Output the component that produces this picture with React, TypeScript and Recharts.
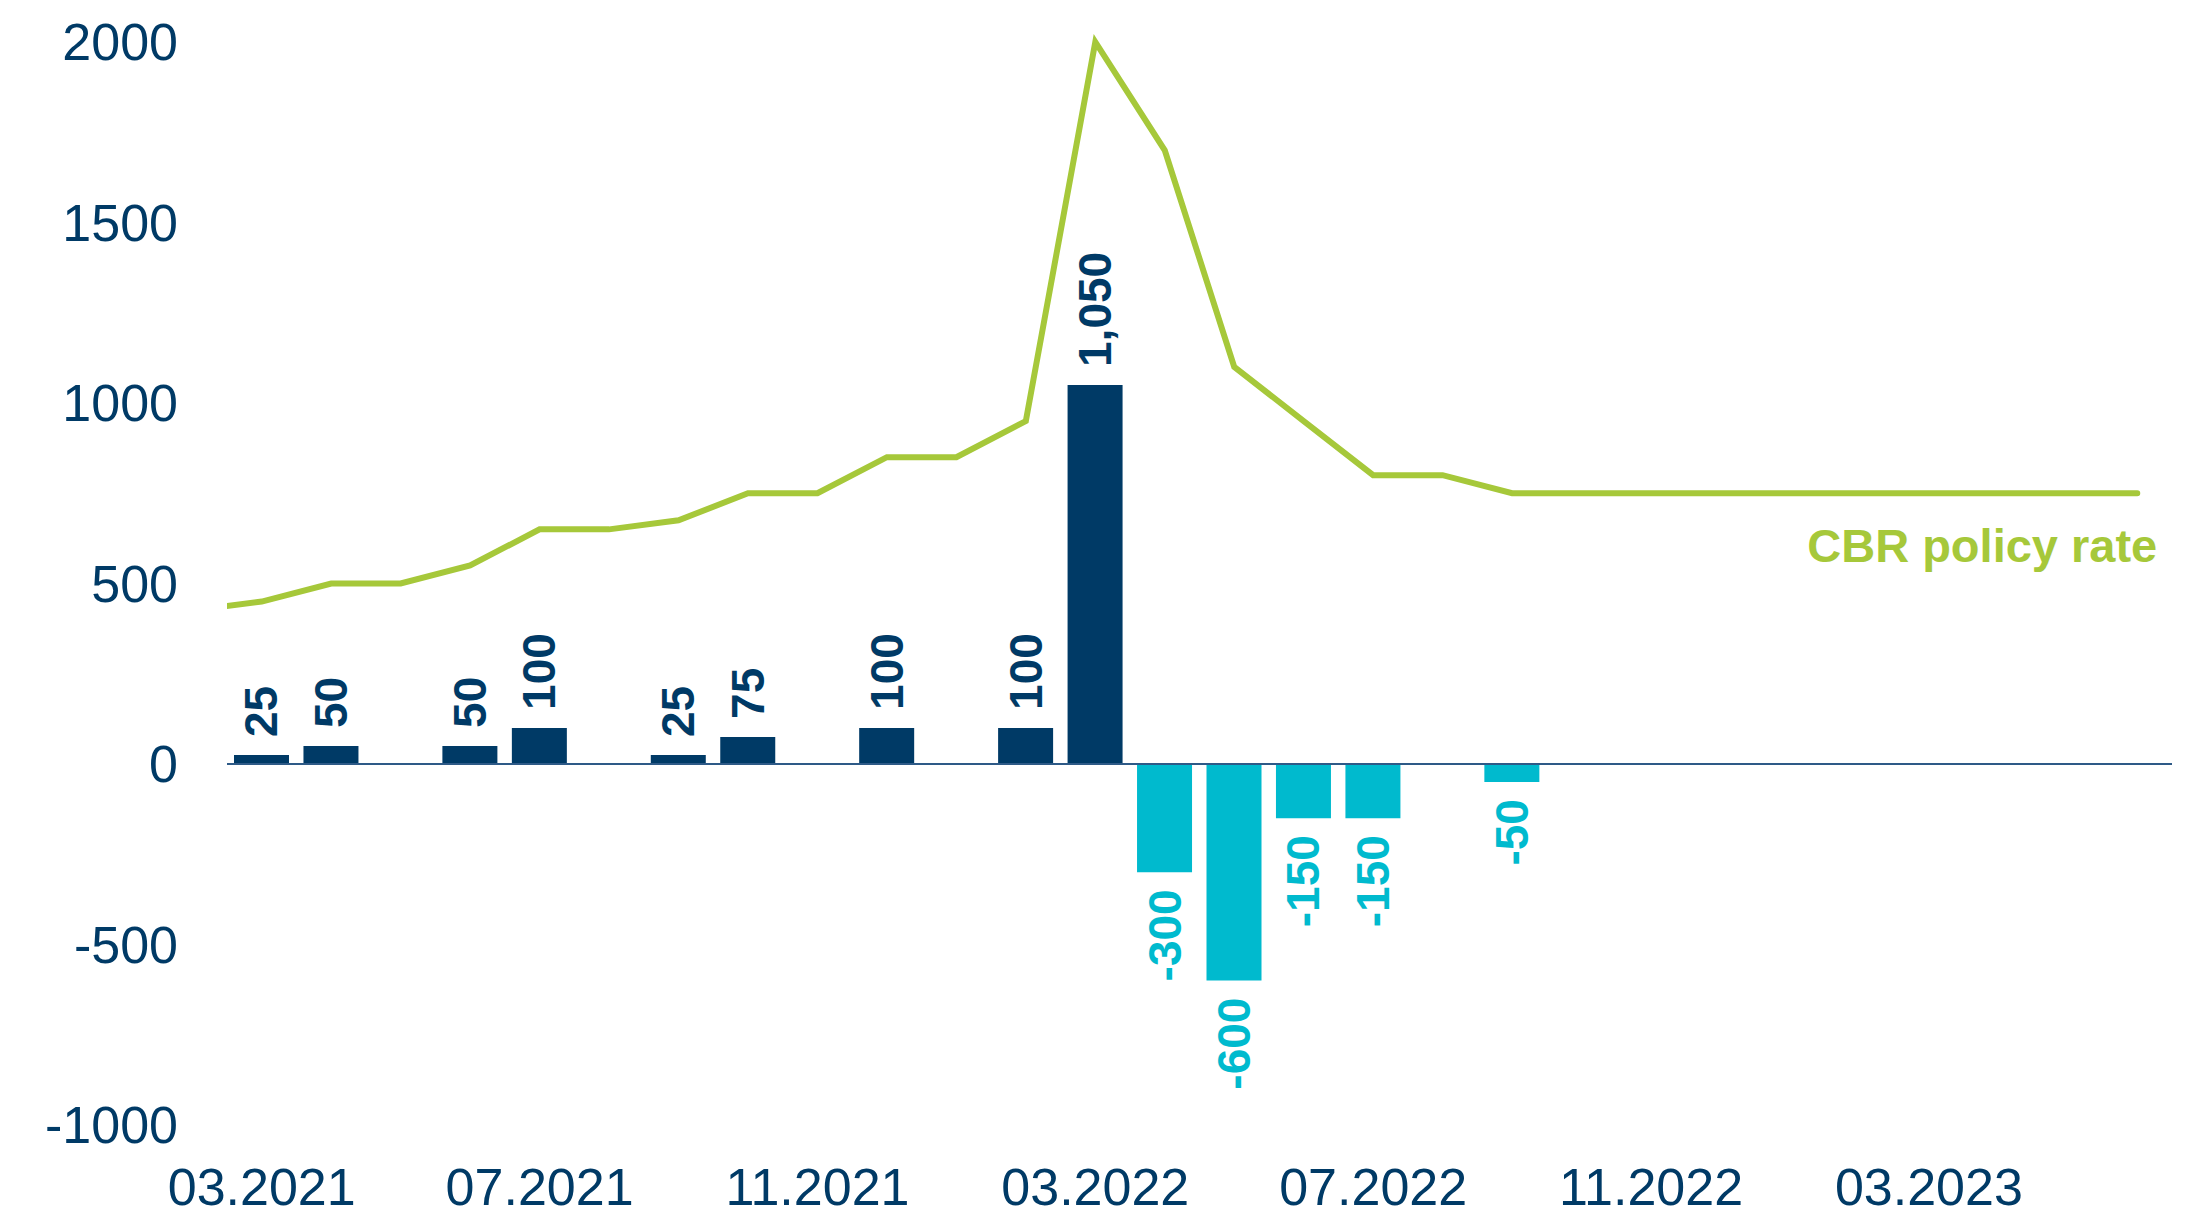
import { Bar, ComposedChart, Line, XAxis, YAxis, ReferenceLine, Cell, LabelList } from "recharts"

// months from 02.2021 (x = -1, sits just left of the plot and gets clipped) to 06.2023 (x = 27)
const months = [
  "02.2021", "03.2021", "04.2021", "05.2021", "06.2021", "07.2021", "08.2021", "09.2021", "10.2021", "11.2021", "12.2021",
  "01.2022", "02.2022", "03.2022", "04.2022", "05.2022", "06.2022", "07.2022", "08.2022", "09.2022", "10.2022", "11.2022", "12.2022",
  "01.2023", "02.2023", "03.2023", "04.2023", "05.2023", "06.2023",
]

// CBR policy rate, bps
const policyRate = [
  425, 450, 500, 500, 550, 650, 650, 675, 750, 750, 850,
  850, 950, 2000, 1700, 1100, 950, 800, 800, 750, 750, 750, 750,
  750, 750, 750, 750, 750, 750,
]

// monthly change of the rate, bps (null = no change)
const rateChange = [
  null, 25, 50, null, 50, 100, null, 25, 75, null, 100,
  null, 100, 1050, -300, -600, -150, -150, null, -50, null, null, null,
  null, null, null, null, null, null,
]

const yTicks = [-1000, -500, 0, 500, 1000, 1500, 2000]
const xTicks = [0, 4, 8, 12, 16, 20, 24]

const NAVY = "#003A66"
const CYAN = "#00BACE"
const GREEN = "#A6C83A"

const data = months.map((m, i) => ({
  x: i - 1,
  month: m,
  rate: policyRate[i],
  change: rateChange[i],
}))

const BarValueLabel = (props: any) => {
  const { x, y, width, height, value } = props
  if (value == null) return null
  const cx = x + width / 2
  const neg = value < 0
  const top = Math.min(y, y + height)
  const bottom = Math.max(y, y + height)
  const py = neg ? bottom + 17 : top - 18
  return (
    <text
      x={cx}
      y={py}
      transform={`rotate(-90, ${cx}, ${py})`}
      textAnchor={neg ? "end" : "start"}
      dominantBaseline="central"
      fontSize={46}
      fontWeight="bold"
      fill={neg ? CYAN : NAVY}
    >
      {value.toLocaleString("en-US")}
    </text>
  )
}

const RateLabel = (props: any) => {
  const { x, y, index } = props
  if (index !== data.length - 1) return null
  return (
    <text x={x + 20} y={y + 69} textAnchor="end" fontSize={47} fontWeight="bold" fill={GREEN}>
      CBR policy rate
    </text>
  )
}

export default function App() {
  return (
    <div style={{ position: "absolute", left: 0, top: 0, fontFamily: "'Liberation Sans', Arial, sans-serif" }}>
      <ComposedChart width={2212} height={1215} data={data} margin={{ top: 42, right: 40, left: 0, bottom: 0 }}>
        <XAxis
          dataKey="x"
          type="number"
          domain={[-0.5, 27.5]}
          allowDataOverflow
          ticks={xTicks}
          tickFormatter={(v) => months[v + 1]}
          axisLine={false}
          tickLine={false}
          tickSize={0}
          tickMargin={43}
          height={90}
          fontSize={52}
          tick={{ fill: NAVY }}
          interval={0}
        />
        <YAxis
          domain={[-1000, 2000]}
          ticks={yTicks}
          width={227}
          axisLine={false}
          tickLine={false}
          tickSize={0}
          tickMargin={49}
          fontSize={52}
          tick={{ fill: NAVY }}
        />
        <Bar dataKey="change" barSize={55} isAnimationActive={false}>
          {data.map((d, i) => (
            <Cell key={i} fill={d.change != null && d.change < 0 ? CYAN : NAVY} />
          ))}
          <LabelList dataKey="change" content={BarValueLabel} />
        </Bar>
        <ReferenceLine y={0} stroke="#2E5A87" strokeWidth={2} />
        <Line
          dataKey="rate"
          stroke={GREEN}
          strokeWidth={6}
          strokeLinecap="round"
          strokeLinejoin="miter"
          dot={false}
          activeDot={false}
          isAnimationActive={false}
        >
          <LabelList dataKey="rate" content={RateLabel} />
        </Line>
      </ComposedChart>
    </div>
  )
}
